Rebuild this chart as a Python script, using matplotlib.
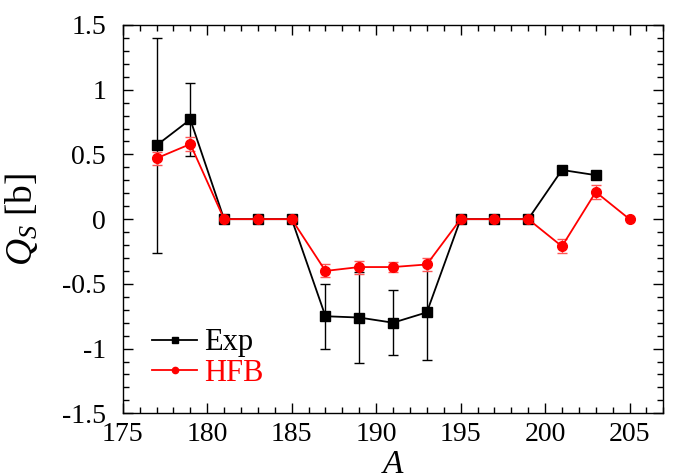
import numpy as np
import matplotlib
matplotlib.use("Agg")
import matplotlib.pyplot as plt
from matplotlib.lines import Line2D
from matplotlib.ticker import MultipleLocator, FuncFormatter

# spectroscopic quadrupole moments of the odd-A isotopes
mass_exp = [177, 179, 181, 183, 185, 187, 189, 191, 193, 195, 197, 199, 201, 203]
qs_exp = [0.57, 0.77, 0.0, 0.0, 0.0, -0.75, -0.76, -0.80, -0.72, 0.0, 0.0, 0.0, 0.38, 0.34]
err_exp = [0.83, 0.28, 0.0, 0.0, 0.0, 0.25, 0.35, 0.25, 0.37, 0.0, 0.0, 0.0, 0.03, 0.03]

mass_hfb = [177, 179, 181, 183, 185, 187, 189, 191, 193, 195, 197, 199, 201, 203, 205]
qs_hfb = [0.47, 0.58, 0.0, 0.0, 0.0, -0.40, -0.37, -0.37, -0.35, 0.0, 0.0, 0.0, -0.21, 0.21, 0.0]
err_hfb = [0.05, 0.055, 0.0, 0.0, 0.0, 0.05, 0.05, 0.04, 0.05, 0.0, 0.0, 0.0, 0.055, 0.055, 0.0]

plt.rcParams['font.family'] = ['Liberation Serif', 'DejaVu Serif']
plt.rcParams['mathtext.fontset'] = 'custom'
plt.rcParams['mathtext.rm'] = 'Liberation Serif'
plt.rcParams['mathtext.it'] = 'Liberation Serif:italic'

fig = plt.figure(figsize=(6.83, 4.74), dpi=100)
ax = fig.add_axes([0.1797, 0.128, 0.7915, 0.8193])

def masked_err(err):
    err = np.asarray(err, dtype=float)
    return np.where(err > 0, err, np.nan)

ax.errorbar(mass_exp, qs_exp, yerr=masked_err(err_exp), color='black', marker='s',
            markersize=6.5, linewidth=1.3, elinewidth=1.0, capsize=3.5, capthick=1.0, zorder=3)
ax.errorbar(mass_hfb, qs_hfb, yerr=masked_err(err_hfb), color='red', marker='o',
            markersize=7, linewidth=1.3, elinewidth=1.0, capsize=3.5, capthick=1.0,
            ecolor='#ff5555', zorder=4)

ax.set_xlim(175, 207)
ax.set_ylim(-1.5, 1.5)
ax.xaxis.set_major_locator(MultipleLocator(5))
ax.xaxis.set_minor_locator(MultipleLocator(1))
ax.yaxis.set_major_locator(MultipleLocator(0.5))
ax.yaxis.set_minor_locator(MultipleLocator(0.1))
ax.yaxis.set_major_formatter(FuncFormatter(lambda v, p: ('%g' % v)))
ax.tick_params(which='both', direction='in', top=True, right=True, width=1.0)
ax.tick_params(which='major', length=7, labelsize=20)
ax.tick_params(axis='x', which='major', pad=6)
ax.tick_params(axis='y', which='major', pad=12)
ax.tick_params(which='minor', length=4)
for sp in ax.spines.values():
    sp.set_linewidth(1.0)

ax.set_xlabel(r'$A$', fontsize=24, labelpad=2)
ax.set_ylabel(r'$Q_S$ [b]', fontsize=27, labelpad=16)

handles = [Line2D([], [], color='black', marker='s', markersize=4, linewidth=1.3),
           Line2D([], [], color='red', marker='o', markersize=4.5, linewidth=1.3)]
leg = ax.legend(handles, ['Exp', 'HFB'], loc='center left', bbox_to_anchor=(0.055, 0.142),
                frameon=False, fontsize=22, handlelength=1.45, handletextpad=0.25,
                labelspacing=0.05, borderpad=0, borderaxespad=0)
for txt, c in zip(leg.get_texts(), ['black', 'red']):
    txt.set_color(c)

fig.savefig('out.png', dpi=100)
